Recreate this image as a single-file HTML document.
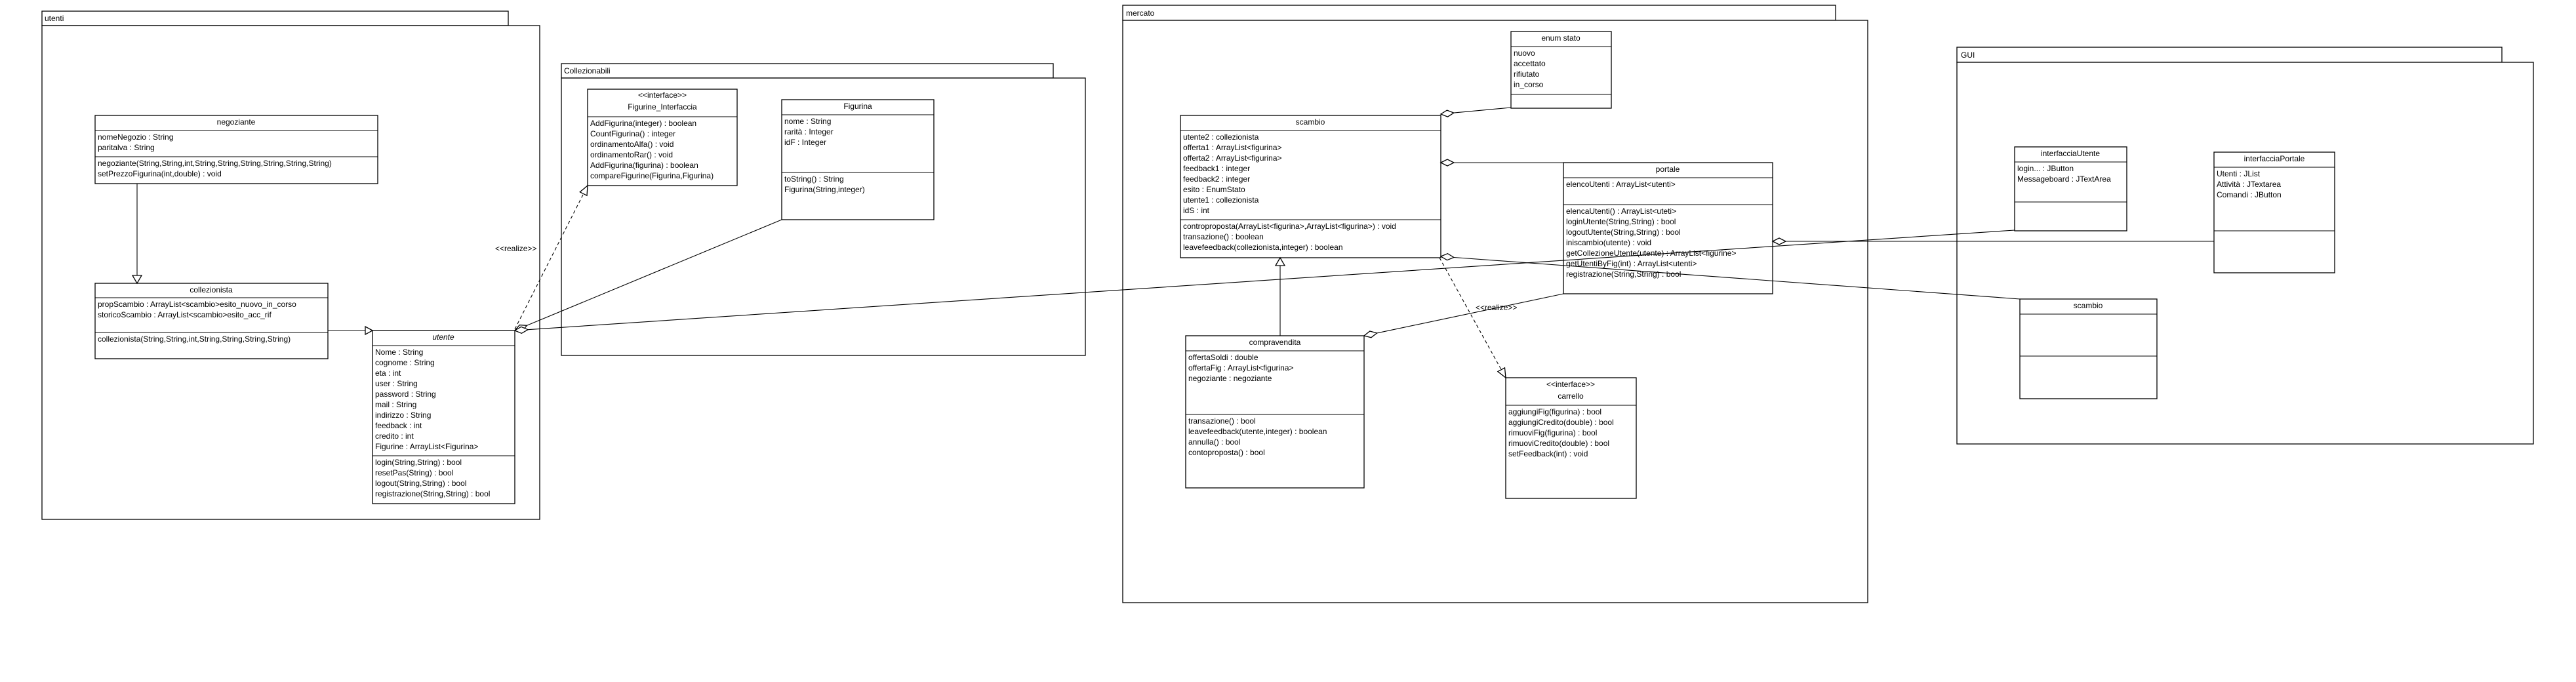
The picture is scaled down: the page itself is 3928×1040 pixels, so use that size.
<!DOCTYPE html>
<html><head><meta charset="utf-8"><style>
html,body{margin:0;padding:0;background:#fff;}
svg{display:block;}
text{font-family:"Liberation Sans",sans-serif;font-size:12px;fill:#000;}
.c{text-anchor:middle;}
rect,polygon{fill:#fff;stroke:#000;stroke-width:1.3;}
line{stroke:#000;stroke-width:1.1;}
.d{stroke-dasharray:5,4;}
</style></head><body>
<svg width="3928" height="1040" viewBox="0 0 3928 1040" xmlns="http://www.w3.org/2000/svg">
<!-- packages -->
<rect x="64" y="17" width="711" height="22"/><rect x="64" y="39" width="759" height="753"/>
<text x="68" y="32">utenti</text>
<rect x="856" y="97" width="750" height="22"/><rect x="856" y="119" width="799" height="423"/>
<text x="860" y="112">Collezionabili</text>
<rect x="1712" y="8" width="1087" height="23"/><rect x="1712" y="31" width="1136" height="888"/>
<text x="1717" y="24">mercato</text>
<rect x="2984" y="72" width="831" height="23"/><rect x="2984" y="95" width="879" height="582"/>
<text x="2990" y="88">GUI</text>

<!-- negoziante -->
<rect x="145" y="176" width="431" height="104"/>
<line x1="145" y1="199" x2="576" y2="199"/><line x1="145" y1="239" x2="576" y2="239"/>
<text class="c" x="360" y="190">negoziante</text>
<text x="149" y="213">nomeNegozio : String</text><text x="149" y="229">paritalva : String</text>
<text x="149" y="253">negoziante(String,String,int,String,String,String,String,String,String)</text>
<text x="149" y="269">setPrezzoFigurina(int,double) : void</text>

<!-- collezionista -->
<rect x="145" y="432" width="355" height="115"/>
<line x1="145" y1="454" x2="500" y2="454"/><line x1="145" y1="507" x2="500" y2="507"/>
<text class="c" x="322" y="446">collezionista</text>
<text x="149" y="468">propScambio : ArrayList&lt;scambio&gt;esito_nuovo_in_corso</text>
<text x="149" y="484">storicoScambio : ArrayList&lt;scambio&gt;esito_acc_rif</text>
<text x="149" y="521">collezionista(String,String,int,String,String,String,String)</text>

<!-- utente -->
<rect x="568" y="504" width="217" height="264"/>
<line x1="568" y1="527" x2="785" y2="527"/><line x1="568" y1="695" x2="785" y2="695"/>
<text class="c" x="676" y="518" font-style="italic">utente</text>
<text x="572" y="541">Nome : String</text><text x="572" y="557">cognome : String</text>
<text x="572" y="573">eta : int</text><text x="572" y="589">user : String</text>
<text x="572" y="605">password : String</text><text x="572" y="621">mail : String</text>
<text x="572" y="637">indirizzo : String</text><text x="572" y="653">feedback : int</text>
<text x="572" y="669">credito : int</text><text x="572" y="685">Figurine : ArrayList&lt;Figurina&gt;</text>
<text x="572" y="709">login(String,String) : bool</text><text x="572" y="725">resetPas(String) : bool</text>
<text x="572" y="741">logout(String,String) : bool</text><text x="572" y="757">registrazione(String,String) : bool</text>

<!-- Figurine_Interfaccia -->
<rect x="896" y="136" width="228" height="147"/>
<line x1="896" y1="178" x2="1124" y2="178"/>
<text class="c" x="1010" y="149">&lt;&lt;interface&gt;&gt;</text>
<text class="c" x="1010" y="167">Figurine_Interfaccia</text>
<text x="900" y="192">AddFigurina(integer) : boolean</text><text x="900" y="208">CountFigurina() : integer</text>
<text x="900" y="224">ordinamentoAlfa() : void</text><text x="900" y="240">ordinamentoRar() : void</text>
<text x="900" y="256">AddFigurina(figurina) : boolean</text><text x="900" y="272">compareFigurine(Figurina,Figurina)</text>

<!-- Figurina -->
<rect x="1192" y="152" width="232" height="183"/>
<line x1="1192" y1="175" x2="1424" y2="175"/><line x1="1192" y1="263" x2="1424" y2="263"/>
<text class="c" x="1308" y="166">Figurina</text>
<text x="1196" y="189">nome : String</text><text x="1196" y="205">rarità : Integer</text><text x="1196" y="221">idF : Integer</text>
<text x="1196" y="277">toString() : String</text><text x="1196" y="293">Figurina(String,integer)</text>

<!-- enum stato -->
<rect x="2304" y="48" width="153" height="117"/>
<line x1="2304" y1="71" x2="2457" y2="71"/><line x1="2304" y1="144" x2="2457" y2="144"/>
<text class="c" x="2380" y="62">enum stato</text>
<text x="2308" y="85">nuovo</text><text x="2308" y="101">accettato</text><text x="2308" y="117">rifiutato</text><text x="2308" y="133">in_corso</text>

<!-- scambio -->
<rect x="1800" y="176" width="397" height="217"/>
<line x1="1800" y1="199" x2="2197" y2="199"/><line x1="1800" y1="335" x2="2197" y2="335"/>
<text class="c" x="1998" y="190">scambio</text>
<text x="1804" y="213">utente2 : collezionista</text><text x="1804" y="229">offerta1 : ArrayList&lt;figurina&gt;</text>
<text x="1804" y="245">offerta2 : ArrayList&lt;figurina&gt;</text><text x="1804" y="261">feedback1 : integer</text>
<text x="1804" y="277">feedback2 : integer</text><text x="1804" y="293">esito : EnumStato</text>
<text x="1804" y="309">utente1 : collezionista</text><text x="1804" y="325">idS : int</text>
<text x="1804" y="349">controproposta(ArrayList&lt;figurina&gt;,ArrayList&lt;figurina&gt;) : void</text>
<text x="1804" y="365">transazione() : boolean</text>
<text x="1804" y="381">leavefeedback(collezionista,integer) : boolean</text>

<!-- portale -->
<rect x="2384" y="248" width="319" height="200"/>
<line x1="2384" y1="271" x2="2703" y2="271"/><line x1="2384" y1="312" x2="2703" y2="312"/>
<text class="c" x="2543" y="262">portale</text>
<text x="2388" y="285">elencoUtenti : ArrayList&lt;utenti&gt;</text>
<text x="2388" y="326">elencaUtenti() : ArrayList&lt;uteti&gt;</text>
<text x="2388" y="342">loginUtente(String,String) : bool</text>
<text x="2388" y="358">logoutUtente(String,String) : bool</text>
<text x="2388" y="374">iniscambio(utente) : void</text>
<text x="2388" y="390">getCollezioneUtente(utente) : ArrayList&lt;figurine&gt;</text>
<text x="2388" y="406">getUtentiByFig(int) : ArrayList&lt;utenti&gt;</text>
<text x="2388" y="422">registrazione(String,String) : bool</text>

<!-- compravendita -->
<rect x="1808" y="512" width="272" height="232"/>
<line x1="1808" y1="535" x2="2080" y2="535"/><line x1="1808" y1="632" x2="2080" y2="632"/>
<text class="c" x="1944" y="526">compravendita</text>
<text x="1812" y="549">offertaSoldi : double</text><text x="1812" y="565">offertaFig : ArrayList&lt;figurina&gt;</text>
<text x="1812" y="581">negoziante : negoziante</text>
<text x="1812" y="646">transazione() : bool</text><text x="1812" y="662">leavefeedback(utente,integer) : boolean</text>
<text x="1812" y="678">annulla() : bool</text><text x="1812" y="694">contoproposta() : bool</text>

<!-- carrello -->
<rect x="2296" y="576" width="199" height="184"/>
<line x1="2296" y1="618" x2="2495" y2="618"/>
<text class="c" x="2395" y="590">&lt;&lt;interface&gt;&gt;</text>
<text class="c" x="2395" y="608">carrello</text>
<text x="2300" y="632">aggiungiFig(figurina) : bool</text><text x="2300" y="648">aggiungiCredito(double) : bool</text>
<text x="2300" y="664">rimuoviFig(figurina) : bool</text><text x="2300" y="680">rimuoviCredito(double) : bool</text>
<text x="2300" y="696">setFeedback(int) : void</text>

<!-- GUI classes -->
<rect x="3072" y="224" width="171" height="128"/>
<line x1="3072" y1="247" x2="3243" y2="247"/><line x1="3072" y1="308" x2="3243" y2="308"/>
<text class="c" x="3157" y="238">interfacciaUtente</text>
<text x="3076" y="261">login... : JButton</text><text x="3076" y="277">Messageboard : JTextArea</text>

<rect x="3376" y="232" width="184" height="184"/>
<line x1="3376" y1="255" x2="3560" y2="255"/><line x1="3376" y1="352" x2="3560" y2="352"/>
<text class="c" x="3468" y="246">interfacciaPortale</text>
<text x="3380" y="269">Utenti : JList</text><text x="3380" y="285">Attività : JTextarea</text><text x="3380" y="301">Comandi : JButton</text>

<rect x="3080" y="456" width="209" height="152"/>
<line x1="3080" y1="479" x2="3289" y2="479"/><line x1="3080" y1="543" x2="3289" y2="543"/>
<text class="c" x="3184" y="470">scambio</text>

<!-- connectors -->
<line x1="209" y1="280" x2="209" y2="420"/><polygon points="209,432 202,420 216,420"/>
<line x1="500" y1="504" x2="557" y2="504"/><polygon points="568,504 557,498 557,510"/>
<line class="d" x1="785" y1="502" x2="889.7" y2="295.5"/><polygon points="896,283 895,298.2 884.3,292.8"/>
<text x="755" y="383">&lt;&lt;realize&gt;&gt;</text>
<line x1="803.5" y1="496.3" x2="1192" y2="335"/><polygon points="785,504 796.1,504.8 803.5,496.3 792.3,495.6"/>
<line x1="805" y1="502.7" x2="3072" y2="351"/><polygon points="785,504 795.3,508.3 805,502.7 794.7,498.3"/>

<line x1="2216.9" y1="172.1" x2="2304" y2="164"/><polygon points="2197,174 2207.5,178.1 2216.9,172.1 2206.5,168.1"/>
<line x1="2217" y1="248" x2="2384" y2="248"/><polygon points="2197,248 2207,243 2217,248 2207,253"/>
<line x1="2216.9" y1="392.5" x2="3080" y2="456"/><polygon points="2197,391 2206.6,396.7 2216.9,392.5 2207.4,386.7"/>
<line class="d" x1="2195" y1="393" x2="2289.2" y2="563.7"/><polygon points="2296,576 2294.5,560.8 2283.9,566.6"/>
<text x="2250" y="473">&lt;&lt;realize&gt;&gt;</text>
<line x1="2099.6" y1="507.9" x2="2384" y2="448"/><polygon points="2080,512 2090.8,514.8 2099.6,507.9 2088.8,505"/>
<line x1="1952" y1="512" x2="1952" y2="405"/><polygon points="1952,393 1945,405 1959,405"/>
<line x1="2723" y1="368" x2="3376" y2="368"/><polygon points="2703,368 2713,363 2723,368 2713,373"/>
</svg>
</body></html>
